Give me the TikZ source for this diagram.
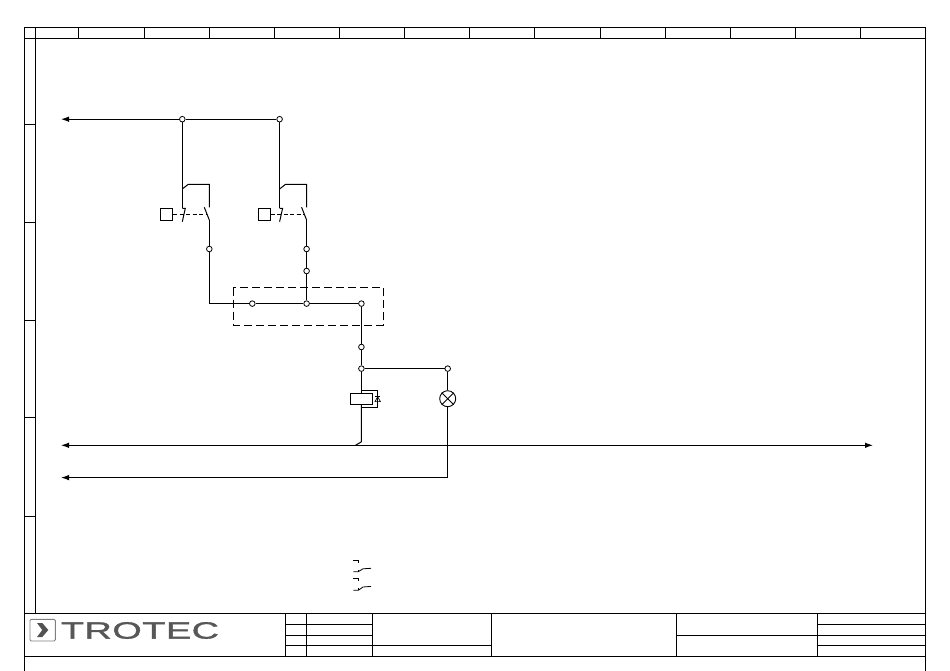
\documentclass[tikz,border=0pt]{standalone}
\usepackage{fontspec}
\usepackage{graphicx}
\usetikzlibrary{arrows.meta}
\newfontfamily\logofont[LetterSpace=1.5,FakeBold=1.2]{Liberation Sans}
\tikzset{
  wire/.style={line width=1pt,black},
  frameline/.style={line width=1pt,black},
  term/.style={circle,draw=black,fill=white,line width=0.8pt,minimum size=5.6pt,inner sep=0pt},
  busarrow/.style={wire,-{Latex[length=8pt,width=5.5pt]}},
  ctrl/.style={line width=0.9pt,black,dash pattern=on 4pt off 2.5pt},
  groupbox/.style={line width=1pt,black,dash pattern=on 8pt off 4pt},
  actuator/.style={draw=black,line width=1pt,fill=white,minimum size=12pt,inner sep=0pt},
  coilbox/.style={draw=black,line width=1pt,fill=white,minimum width=22.5pt,minimum height=11pt,inner sep=0pt},
  lampsym/.style={circle,draw=black,line width=0.9pt,minimum size=16pt,inner sep=0pt},
  aux/.style={line width=0.8pt,black}
}
\begin{document}
\begin{tikzpicture}[x=1pt,y=-1pt]
\useasboundingbox (0,0) rectangle (950,671);
\fill[white] (0,0) rectangle (950,671);

% drawing frame
\draw[frameline] (24.4,671) -- (24.4,27.4) -- (925.4,27.4) -- (925.4,671);
\draw[frameline] (24.4,38.4) -- (925.4,38.4);
\draw[frameline] (35.6,27.4) -- (35.6,613.4);
\foreach \c in {78.3,144.3,209.3,274.3,339.3,404.3,469.3,534.3,600.3,665.3,730.3,795.3,860.3}
  \draw[frameline] (\c,27.4) -- (\c,38.4);
\foreach \r in {124.3,222.3,320.3,417.3,516.3}
  \draw[frameline] (24.4,\r) -- (35.6,\r);

% title block
\draw[frameline] (24.4,613.4) -- (925.4,613.4);
\draw[frameline] (24.4,656.4) -- (925.4,656.4);
\foreach \c in {285.6,306.4,372.4,491.4,676.4,817.4}
  \draw[frameline] (\c,613.4) -- (\c,656.4);
\draw[frameline] (285.6,624.4) -- (372.4,624.4);
\draw[frameline] (285.6,635.4) -- (372.4,635.4);
\draw[frameline] (285.6,645.4) -- (491.4,645.4);
\draw[frameline] (676.4,635.4) -- (817.4,635.4);
\draw[frameline] (817.4,624.4) -- (925.4,624.4);
\draw[frameline] (817.4,635.4) -- (925.4,635.4);
\draw[frameline] (817.4,645.4) -- (925.4,645.4);

% logo
\draw[black!50,fill=white,line width=0.9pt,rounded corners=1.2pt] (30,619.3) rectangle (55.3,641);
\fill[black!68] (37,623) -- (42.3,623) -- (48.3,630) -- (42.3,637) -- (37,637) -- (42.3,630) -- cycle;
\node[inner sep=0pt,anchor=center,text=black!66] (logo) at (140,630.5) {\resizebox{158pt}{16.5pt}{\logofont TROTEC}};

% terminals
\node[term] (t1) at (182.3,119.2) {};
\node[term] (t2) at (279.6,119.2) {};
\node[term] (t3) at (209.3,249) {};
\node[term] (t4) at (306.6,249) {};
\node[term] (t5) at (306.6,271) {};
\node[term] (t6) at (252.3,303.6) {};
\node[term] (t7) at (306.6,303.6) {};
\node[term] (t8) at (361.4,303.6) {};
\node[term] (t9) at (361.4,347) {};
\node[term] (t10) at (361.4,368.6) {};
\node[term] (t11) at (447.7,368.6) {};
\node[coilbox] (coil) at (361.5,398.8) {};
\node[lampsym] (lamp) at (447.7,398.7) {};
\node[actuator] (act1) at (166.7,214.3) {};
\node[actuator] (act2) at (264,214.3) {};

% free ends
\coordinate (busL) at (61,445.3);
\coordinate (busR) at (873,445.3);
\coordinate (retL) at (61,477.6);
\coordinate (topL) at (61,119.2);
\coordinate (retC) at (447.7,477.6);
\coordinate (lo1) at (182.3,208.3);
\coordinate (lo2) at (279.6,208.3);
\coordinate (a1) at (182.3,189);
\coordinate (a2) at (279.6,189);
\coordinate (b1) at (188,184.5);
\coordinate (b2) at (285.3,184.5);
\coordinate (c1) at (209.3,184.5);
\coordinate (c2) at (306.6,184.5);
\coordinate (d1) at (209.3,207.3);
\coordinate (d2) at (306.6,207.3);
\coordinate (e1) at (209.3,220);
\coordinate (e2) at (306.6,220);
\coordinate (f1) at (204.3,207.3);
\coordinate (f2) at (301.6,207.3);
\coordinate (j1) at (209.3,303.6);
\coordinate (coilfoot) at (361.4,441.8);
\coordinate (buslink) at (355.5,445.3);
\coordinate (dt) at (361.4,390.7);
\coordinate (db) at (361.4,407.4);

% buses
\draw[wire] (t2) -- (t1);
\draw[busarrow] (t1) -- (topL);
\draw[wire,{Latex[length=8pt,width=5.5pt]}-{Latex[length=8pt,width=5.5pt]}] (busL) -- (busR);
\draw[busarrow] (retC) -- (retL);

% switches
\draw[wire] (t1) -- (lo1);
\draw[wire] (t2) -- (lo2);
\draw[wire] (a1) -- (b1) -- (c1) -- (d1);
\draw[wire] (a2) -- (b2) -- (c2) -- (d2);
\draw[wire] (f1) -- (e1);
\draw[wire] (f2) -- (e2);
\draw[wire] (lo1) -- ++(3,0) -- ++(-3,13.4);
\draw[wire] (lo2) -- ++(3,0) -- ++(-3,13.4);
\draw[ctrl] (act1) -- (206.3,214.3);
\draw[ctrl] (act2) -- (303.6,214.3);
\draw[wire] (e1) -- (t3);
\draw[wire] (e2) -- (t4);

% wiring
\draw[wire] (t3) -- (j1) -- (t6);
\draw[wire] (t6) -- (t7);
\draw[wire] (t7) -- (t8);
\draw[wire] (t4) -- (t5);
\draw[wire] (t5) -- (t7);
\draw[wire] (t8) -- (t9);
\draw[wire] (t9) -- (t10);
\draw[wire] (t10) -- (t11);
\draw[wire] (t10) -- (t10 |- coil.north);
\draw[wire] (t10 |- coil.south) -- (coilfoot) -- (buslink);
\draw[wire] (t11) -- (lamp);
\draw[wire] (lamp) -- (retC);

% group outline
\draw[groupbox] (233.3,287.7) rectangle (383.3,325);

% coil diode
\draw[line width=0.9pt,black] (dt) -- (377.7,390.7) -- (377.7,407.4) -- (db);
\draw[line width=0.7pt,black] (375,401.6) -- (380.4,401.6) -- (377.7,396.8) -- cycle;
\draw[line width=0.7pt,black] (375,396.8) -- (380.4,396.8);

% lamp cross
\draw[line width=0.9pt,black] (lamp.45) -- (lamp.225);
\draw[line width=0.9pt,black] (lamp.135) -- (lamp.315);

% auxiliary contacts
\draw[aux] (353.3,560) -- (358.3,560) -- (358.3,562.6);
\draw[aux] (353.3,571.7) -- (358.3,571.7) -- (363,568.8) -- (371,568.3);
\draw[aux] (358.3,571.7) -- (358.3,569.6);
\draw[aux] (353.3,578.3) -- (358.3,578.3) -- (358.3,580.9);
\draw[aux] (353.3,590.3) -- (358.3,590.3) -- (363,587) -- (371,586.4);
\draw[aux] (358.3,590.3) -- (358.3,588.2);
\end{tikzpicture}
\end{document}
